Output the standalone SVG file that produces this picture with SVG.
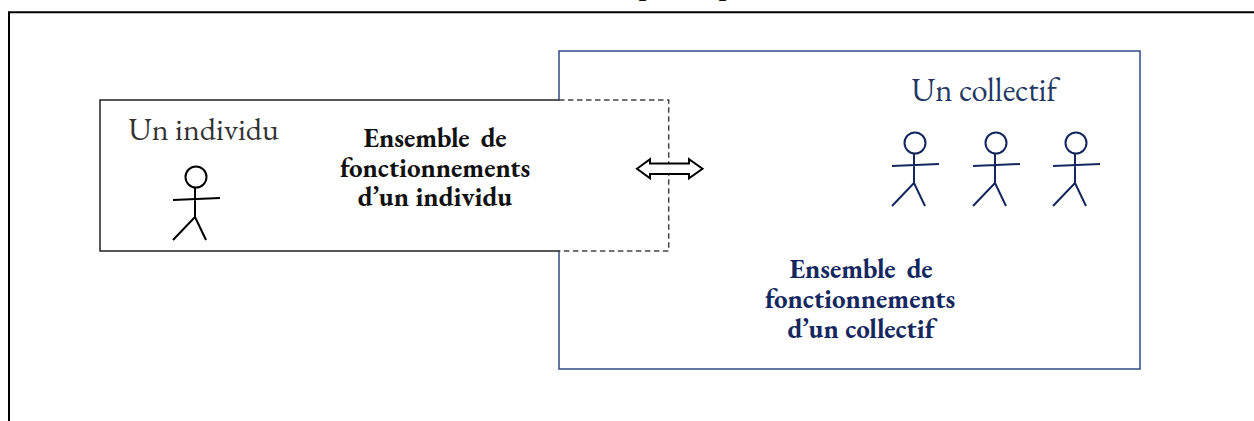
<svg xmlns="http://www.w3.org/2000/svg" width="1254" height="421" viewBox="0 0 1254 421">
<style>
text{font-family:"EB Garamond","Liberation Serif",serif;text-anchor:middle}
.t{font-size:32px;fill:#333}
.tb{font-size:32.500px;fill:#1f3864}
.b{font-size:27px;font-weight:bold;fill:#111}
.bb{font-size:27px;font-weight:bold;fill:#14285f}
.wide{word-spacing:5px}
.fig{fill:none;stroke-width:2}
</style>
<defs>
<g id="person">
<circle cx="0" cy="0" r="10.500"/>
<path d="M-1 10.500V40M-23 23L24 21M-1 40L-23 63M-1 40L10 63"/>
</g>
</defs>
<rect width="1254" height="421" fill="#fff"/>
<path d="M9 421V12.300H1254" fill="none" stroke="#000" stroke-width="2"/>
<text class="b" x="646" y="-6">p</text>
<text class="b" x="726" y="-6">p</text>
<g id="collectif">
<rect x="559" y="51" width="581" height="318" fill="#fff" stroke="#2f4a85" stroke-width="1.500"/>
<text class="tb" x="984" y="101">Un collectif</text>
<g class="fig" stroke="#14285f">
<use href="#person" x="915" y="143"/>
<use href="#person" x="996" y="143"/>
<use href="#person" x="1076" y="143"/>
</g>
<text class="bb"><tspan class="wide" x="861" y="278">Ensemble de</tspan><tspan x="860" y="308">fonctionnements</tspan><tspan x="861" y="338">d’un collectif</tspan></text>
</g>
<g id="individu">
<path d="M559 100H100V251H559" fill="#fff" stroke="#222" stroke-width="1.500"/>
<rect x="559" y="101" width="109" height="149" fill="#fff"/>
<text class="t" x="203.500" y="140">Un individu</text>
<g class="fig" stroke="#000">
<use href="#person" x="196" y="177"/>
</g>
<text class="b"><tspan class="wide" x="435" y="147">Ensemble de</tspan><tspan x="435" y="177">fonctionnements</tspan><tspan x="435" y="206">d’un individu</tspan></text>
</g>
<g id="connectors" fill="none">
<path d="M559 100H668.700V251H559" stroke="#444" stroke-width="1.500" stroke-dasharray="5.500 3.500"/>
<path d="M637 168.800L650 159.300V163.500H689V159.300L702.500 168.800L689 178.300V174.100H650V178.300Z" fill="#fff" stroke="#000" stroke-width="2"/>
</g>
</svg>
